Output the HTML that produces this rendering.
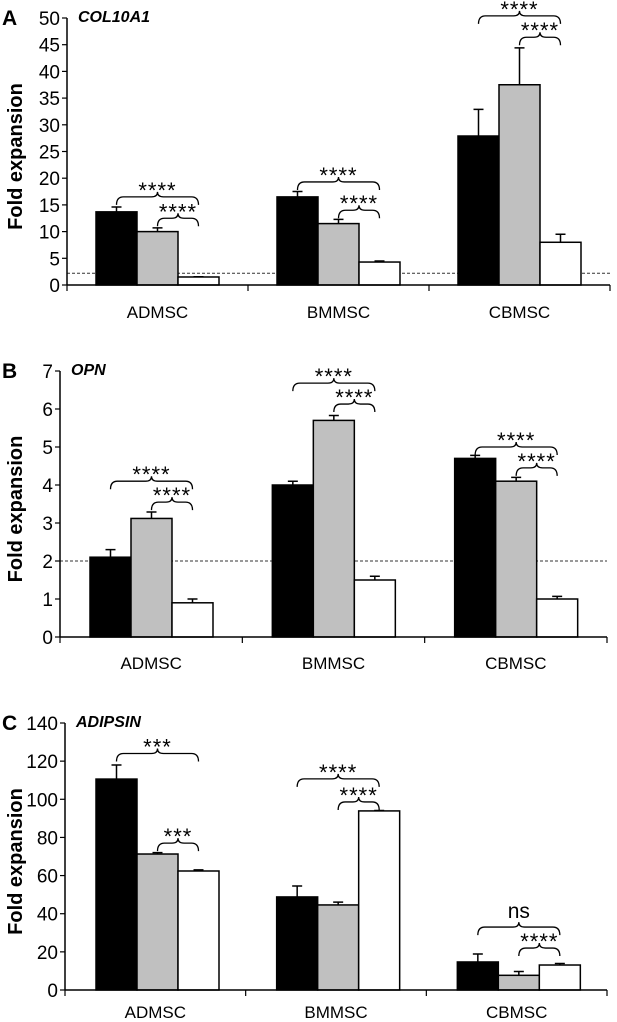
<!DOCTYPE html>
<html><head><meta charset="utf-8"><style>
body{margin:0;background:#fff;}
svg{display:block;font-family:"Liberation Sans",Arial,sans-serif;}
</style></head><body>
<svg id="chart" width="617" height="1022" viewBox="0 0 617 1022" xmlns="http://www.w3.org/2000/svg"></svg>
<script>
const categories = ["ADMSC","BMMSC","CBMSC"];
// Panel A COL10A1
const aBlack = [13.7, 16.5, 27.9];
const aGray = [10.0, 11.5, 37.5];
const aWhite = [1.5, 4.3, 8.0];
const aBlackErr = [0.9, 1.0, 5.0];
const aGrayErr = [0.7, 0.8, 6.9];
const aWhiteErr = [0.05, 0.2, 1.5];
const aTicks = [0,5,10,15,20,25,30,35,40,45,50];
const aBrackets = [[0,0,2,16.5,"****"],[0,1,2,12.5,"****"],[1,0,2,19.3,"****"],[1,1,2,14.0,"****"],[2,0,2,50.4,"****"],[2,1,2,46.4,"****"]];
// Panel B OPN
const bBlack = [2.1, 4.0, 4.7];
const bGray = [3.12, 5.7, 4.1];
const bWhite = [0.9, 1.5, 1.0];
const bBlackErr = [0.2, 0.1, 0.08];
const bGrayErr = [0.17, 0.13, 0.1];
const bWhiteErr = [0.1, 0.1, 0.07];
const bTicks = [0,1,2,3,4,5,6,7];
const bBrackets = [[0,0,2,4.1,"****"],[0,1,2,3.55,"****"],[1,0,2,6.68,"****"],[1,1,2,6.13,"****"],[2,0,2,5.0,"****"],[2,1,2,4.45,"****"]];
// Panel C ADIPSIN
const cBlack = [110.6, 48.8, 14.7];
const cGray = [71.3, 44.6, 7.7];
const cWhite = [62.4, 93.9, 13.1];
const cBlackErr = [7.4, 5.7, 4.2];
const cGrayErr = [0.7, 1.5, 2.0];
const cWhiteErr = [0.6, 0.2, 0.8];
const cTicks = [0,20,40,60,80,100,120,140];
const cBrackets = [[0,0,2,124,"***"],[0,1,2,77,"***"],[1,0,2,110.7,"****"],[1,1,2,98.6,"****"],[2,0,2,33,"ns"],[2,1,2,22,"****"]];

const NS="http://www.w3.org/2000/svg";
const svg=document.getElementById('chart');
function mk(tag,attrs,parent){const e=document.createElementNS(NS,tag);for(const k in attrs)e.setAttribute(k,attrs[k]);(parent||svg).appendChild(e);return e;}

function panel(p){
  const g=mk('g',{});
  
  
  const yMax=p.ticks[p.ticks.length-1];
  const y=v=>p.y0-(v/yMax)*(p.y0-p.yTop);
  const gw=(p.right-p.x0)/categories.length;
  const barX=(ci,bi)=>p.x0+ci*gw+p.off+bi*41;
  let t=mk('text',{x:2,y:p.yTop+7,'font-size':21,'font-weight':'bold'},g);t.textContent=p.letter;
  
  t=mk('text',{x:p.x0+11,y:p.yTop+4,'font-size':16,'font-weight':'bold','font-style':'italic'},g);t.textContent=p.title;
  
  const mid=(p.y0+p.yTop)/2;
  t=mk('text',{x:0,y:0,'font-size':20,'font-weight':'bold','text-anchor':'middle',transform:`translate(22,${mid+5}) rotate(-90)`},g);t.textContent='Fold expansion';
  
  p.ticks.forEach(v=>{
    mk('line',{x1:p.x0-5,x2:p.x0,y1:y(v),y2:y(v),stroke:'#000','stroke-width':1.2},g);
    const tl=mk('text',{x:p.x0-7,y:y(v)+7,'font-size':19,'text-anchor':'end'},g);tl.textContent=v;
    
  });
  if(p.dash!=null){const d=mk('line',{x1:p.x0,x2:p.right,y1:y(p.dash),y2:y(p.dash),stroke:'#333','stroke-width':1,'stroke-dasharray':'3,2'},g);
    }
  const series=[[p.black,p.blackErr,'#000'],[p.gray,p.grayErr,'#c0c0c0'],[p.white,p.whiteErr,'#fff']];
  categories.forEach((c,ci)=>{
    series.forEach((s,bi)=>{
      const x=barX(ci,bi),v=s[0][ci],e=s[1][ci];
      const r=mk('rect',{x:x,y:y(v),width:41,height:p.y0-y(v),fill:s[2],stroke:'#000','stroke-width':1.5},g);
      
      
      const cx=x+20.5;
      const eb=mk('path',{d:`M${cx},${y(v)} V${y(v+e)} M${cx-5},${y(v+e)} H${cx+5}`,stroke:'#000','stroke-width':1.5,fill:'none'},g);
      
    });
    const cl=mk('text',{x:p.x0+ci*gw+gw/2,y:p.catY,'font-size':17,'text-anchor':'middle'},g);cl.textContent=c;
    
  });
  mk('line',{x1:p.x0,x2:p.x0,y1:p.yTop,y2:p.y0,stroke:'#000','stroke-width':1.5},g);
  mk('line',{x1:p.x0,x2:p.right,y1:p.y0,y2:p.y0,stroke:'#000','stroke-width':1.5},g);
  for(let i=0;i<=categories.length;i++){const xx=p.x0+i*gw;mk('line',{x1:xx,x2:xx,y1:p.y0,y2:p.y0+6,stroke:'#000','stroke-width':1.2},g);}
  p.brackets.forEach(b=>{
    const x1=barX(b[0],b[1])+20.5,x2=barX(b[0],b[2])+20.5,yy=y(b[3]),m=(x1+x2)/2;
    const d=`M${x1},${yy+8} Q${x1},${yy} ${x1+7},${yy} L${m-6},${yy} Q${m},${yy} ${m},${yy-5} Q${m},${yy} ${m+6},${yy} L${x2-7},${yy} Q${x2},${yy} ${x2},${yy+8}`;
    const br=mk('path',{d:d,stroke:'#000','stroke-width':1.3,fill:'none'},g);
    
    const isNs=b[4]==='ns';
    const st=mk('text',{x:m,y:isNs?yy-9:yy+1,'font-size':isNs?21:22,'text-anchor':'middle','letter-spacing':isNs?0:1},g);
    st.textContent=b[4];
    
  });
}
panel({id:'a',letter:'A',title:'COL10A1',x0:67,right:610,off:29,y0:285,yTop:18,ticks:aTicks,dash:2.2,catY:318,
  black:aBlack,gray:aGray,white:aWhite,blackErr:aBlackErr,grayErr:aGrayErr,whiteErr:aWhiteErr,brackets:aBrackets});
panel({id:'b',letter:'B',title:'OPN',x0:60,right:607,off:30,y0:637,yTop:371,ticks:bTicks,dash:2,catY:669,
  black:bBlack,gray:bGray,white:bWhite,blackErr:bBlackErr,grayErr:bGrayErr,whiteErr:bWhiteErr,brackets:bBrackets});
panel({id:'c',letter:'C',title:'ADIPSIN',x0:65,right:607,off:31,y0:990,yTop:723,ticks:cTicks,dash:null,catY:1018,
  black:cBlack,gray:cGray,white:cWhite,blackErr:cBlackErr,grayErr:cGrayErr,whiteErr:cWhiteErr,brackets:cBrackets});
</script>
</body></html>
